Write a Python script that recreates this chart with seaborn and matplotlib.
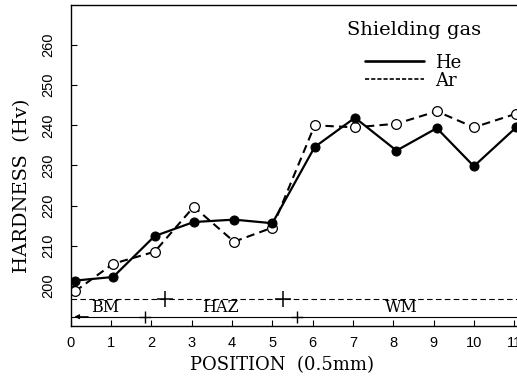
import matplotlib
matplotlib.use("Agg")
import matplotlib.pyplot as plt
from matplotlib.lines import Line2D
import seaborn as sns
import pandas as pd

# Data
positions = [0.1, 1.05, 2.08, 3.05, 4.05, 5.0, 6.05, 7.05, 8.08, 9.08, 10.0, 11.05]
he_hardness = [201.3, 202.2, 212.4, 215.9, 216.5, 215.6, 234.6, 241.9, 233.7, 239.3, 229.8, 239.5]
ar_hardness = [198.6, 205.5, 208.5, 219.7, 211.0, 214.5, 240.0, 239.5, 240.4, 243.5, 239.5, 242.9]
x_ticks = [0, 1, 2, 3, 4, 5, 6, 7, 8, 9, 10, 11]
y_ticks = [200, 210, 220, 230, 240, 250, 260]
zone_labels = ["BM", "HAZ", "WM"]
zone_label_x = [0.85, 3.7, 8.2]
dashed_cross_x = [2.34, 5.27]
solid_cross_x = [1.85, 5.62]
dashed_zone_y = 196.8
solid_zone_y = 192.3
zone_label_y = 194.5

sns.set_theme(style="ticks")
plt.rcParams['font.family'] = ['DejaVu Serif', 'Liberation Serif']
plt.rcParams['text.color'] = 'black'
plt.rcParams['axes.labelcolor'] = 'black'
plt.rcParams['xtick.color'] = 'black'
plt.rcParams['ytick.color'] = 'black'
tick_font = ['Liberation Sans Narrow', 'Liberation Sans', 'DejaVu Sans']

fig = plt.figure(figsize=(5.17, 3.83), dpi=100)
ax = fig.add_axes([0.137, 0.149, 0.863, 0.838])

df_he = pd.DataFrame({"pos": positions, "hv": he_hardness})
df_ar = pd.DataFrame({"pos": positions, "hv": ar_hardness})

sns.lineplot(data=df_ar, x="pos", y="hv", ax=ax, color="black", linestyle=(0, (4, 2.5)),
             linewidth=1.5, marker="o", markersize=7, markerfacecolor="white",
             markeredgecolor="black", markeredgewidth=0.9, sort=False, zorder=2)
sns.lineplot(data=df_he, x="pos", y="hv", ax=ax, color="black", linestyle="-",
             linewidth=1.6, marker="o", markersize=6.5, markerfacecolor="black",
             markeredgecolor="black", sort=False, zorder=3)

# zone indicator lines
ax.plot([0, 11.07], [dashed_zone_y, dashed_zone_y], color="black", lw=0.8,
        linestyle=(0, (5, 3)), zorder=1)
ax.plot([0, 11.07], [solid_zone_y, solid_zone_y], color="black", lw=0.8,
        linestyle="-", zorder=1)
ax.plot(dashed_cross_x, [dashed_zone_y] * len(dashed_cross_x), linestyle="none",
        marker="+", markersize=12, markeredgewidth=1.1, color="black")
ax.plot(solid_cross_x, [solid_zone_y] * len(solid_cross_x), linestyle="none",
        marker="+", markersize=8, markeredgewidth=1.0, color="black")
ax.annotate("", xy=(0.02, solid_zone_y), xytext=(0.5, solid_zone_y),
            arrowprops=dict(arrowstyle="-|>", color="black", lw=0.8, mutation_scale=7))
for lx, lab in zip(zone_label_x, zone_labels):
    ax.text(lx, zone_label_y, lab, ha="center", va="center", fontsize=11.5)

ax.set_xlim(0, 11.07)
ax.set_ylim(190, 270)
ax.set_xticks(x_ticks)
ax.set_yticks(y_ticks)
ax.set_xticklabels([str(t) for t in x_ticks], fontsize=10.5, family=tick_font)
ax.set_yticklabels([str(t) for t in y_ticks], fontsize=10.5, rotation=90, va="center",
                   family=tick_font)
ax.tick_params(direction="in", length=4, width=0.8)
ax.tick_params(axis="x", pad=7)
ax.tick_params(axis="y", pad=11)
ax.set_xlabel("POSITION  (0.5mm)", fontsize=13)
ax.set_ylabel("HARDNESS  (Hv)", fontsize=14)
ax.xaxis.set_label_coords(0.473, -0.095)
ax.yaxis.set_label_coords(-0.09, 0.436)
for s in ["left", "bottom", "top"]:
    ax.spines[s].set_linewidth(1.0)
    ax.spines[s].set_color("black")
ax.spines["right"].set_visible(False)

ax.text(0.769, 0.922, "Shielding gas", transform=ax.transAxes, ha="center",
        va="center", fontsize=14)
handles = [Line2D([0], [0], color="black", lw=1.9, linestyle="-"),
           Line2D([0], [0], color="black", lw=1.2, linestyle=(0, (2.5, 1.2)))]
ax.legend(handles, ["He", "Ar"], frameon=False, loc="upper left",
          bbox_to_anchor=(0.659, 0.848), fontsize=13, handlelength=3.3,
          labelspacing=0.0, handletextpad=0.6, borderaxespad=0, borderpad=0)

fig.savefig("out.png", dpi=100)
